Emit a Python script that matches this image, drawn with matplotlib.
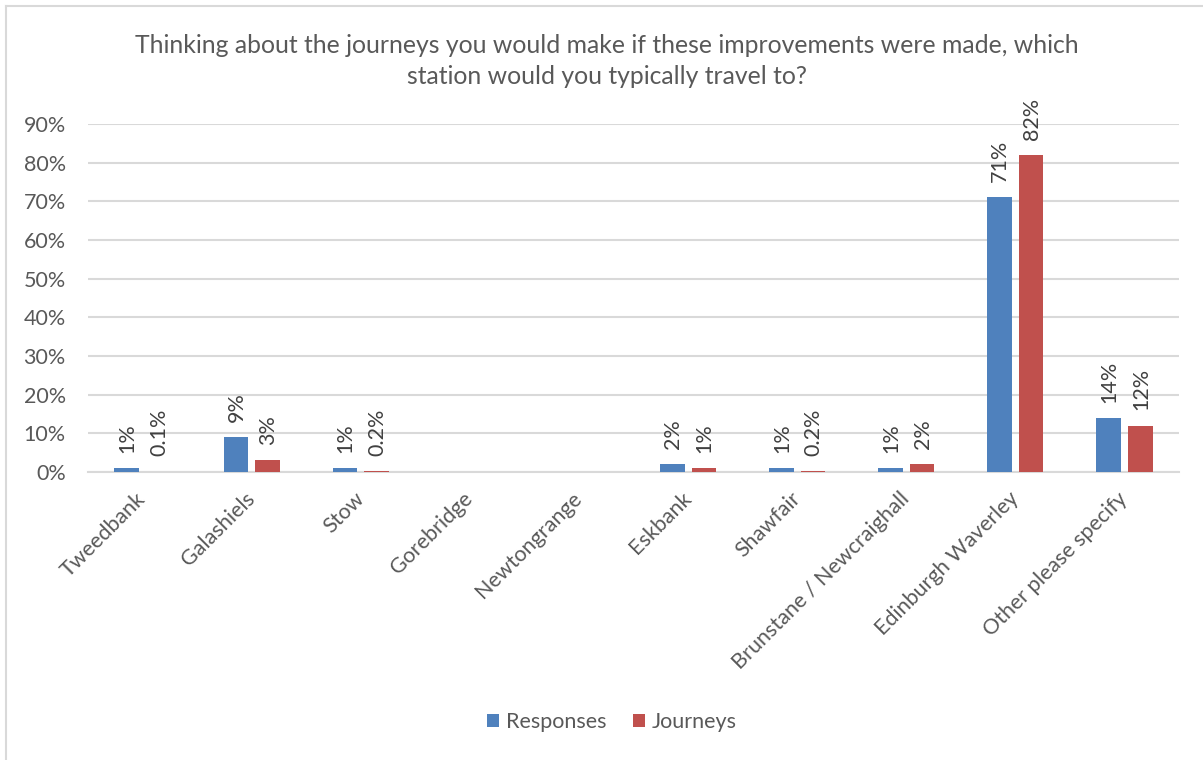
import matplotlib
matplotlib.use("Agg")
import matplotlib.pyplot as plt
import numpy as np
from matplotlib.lines import Line2D
from matplotlib.patches import Patch

categories = ["Tweedbank", "Galashiels", "Stow", "Gorebridge", "Newtongrange",
              "Eskbank", "Shawfair", "Brunstane / Newcraighall",
              "Edinburgh Waverley", "Other please specify"]
responses = [1, 9, 1, 0, 0, 2, 1, 1, 71, 14]
journeys = [0.1, 3, 0.2, 0, 0, 1, 0.2, 2, 82, 12]
responses_labels = ["1%", "9%", "1%", "", "", "2%", "1%", "1%", "71%", "14%"]
journeys_labels = ["0.1%", "3%", "0.2%", "", "", "1%", "0.2%", "2%", "82%", "12%"]
yticks = [0, 10, 20, 30, 40, 50, 60, 70, 80, 90]
title = ("Thinking about the journeys you would make if these improvements were made, which\n"
         "station would you typically travel to?")

plt.rcParams['font.family'] = ['Lato', 'DejaVu Sans']

W, H = 1203, 760
fig = plt.figure(figsize=(W / 100, H / 100), dpi=100)
fig.patch.set_facecolor("white")

# chart border (left and top)
fig.add_artist(Line2D([5.5 / W, 5.5 / W], [0, 1 - 5.5 / H], transform=fig.transFigure,
                      color="#D9D9D9", lw=1.5))
fig.add_artist(Line2D([5.5 / W, 1], [1 - 5.5 / H, 1 - 5.5 / H], transform=fig.transFigure,
                      color="#D9D9D9", lw=1.5))

left, right = 88 / W, 1179 / W
bottom, top = 1 - 472 / H, 1 - 124 / H
ax = fig.add_axes([left, bottom, right - left, top - bottom])

blue = "#4F81BD"
red = "#C0504D"
x = np.arange(len(categories))
bw = 0.225
off = 0.145
ax.bar(x - off, responses, width=bw, color=blue, zorder=3)
ax.bar(x + off, journeys, width=bw, color=red, zorder=3)

fs = 15.5
for xi, v, lab in zip(x - off, responses, responses_labels):
    if lab:
        ax.annotate(lab, (xi, v), xytext=(0.5, 11), textcoords="offset points",
                    rotation=90, ha="center", va="bottom", fontsize=fs, color="#404040")
for xi, v, lab in zip(x + off, journeys, journeys_labels):
    if lab:
        ax.annotate(lab, (xi, v), xytext=(0.5, 11), textcoords="offset points",
                    rotation=90, ha="center", va="bottom", fontsize=fs, color="#404040")

ax.set_xlim(-0.5, len(categories) - 0.5)
ax.set_ylim(0, 90)
ax.set_yticks(yticks)
ax.set_yticklabels([f"{t}%" for t in yticks], fontsize=fs, color="#595959")
ax.yaxis.grid(True, color="#D9D9D9", lw=1.5, zorder=0)
ax.set_axisbelow(True)
for s in ["top", "right", "left"]:
    ax.spines[s].set_visible(False)
ax.spines["bottom"].set_color("#D9D9D9")
ax.spines["bottom"].set_linewidth(1.5)
ax.tick_params(axis="y", length=0, pad=16)
ax.tick_params(axis="x", length=0, pad=17)
ax.set_xticks(x)
ax.set_xticklabels(categories, rotation=45, ha="right", va="center",
                   rotation_mode="anchor", fontsize=fs, color="#595959")

fig.text(607 / W, 1 - 61 / H, title, ha="center", va="center", fontsize=17.8,
         color="#595959", linespacing=1.45)

handles = [Patch(facecolor=blue, label="Responses"), Patch(facecolor=red, label="Journeys")]
fig.legend(handles=handles, loc="center", bbox_to_anchor=(612 / W, 1 - 722 / H), ncol=2,
           frameon=False, fontsize=fs, labelcolor="#595959", handlelength=0.55,
           handleheight=0.55, handletextpad=0.35, columnspacing=1.2)

fig.savefig("out.png", dpi=100, facecolor="white")
